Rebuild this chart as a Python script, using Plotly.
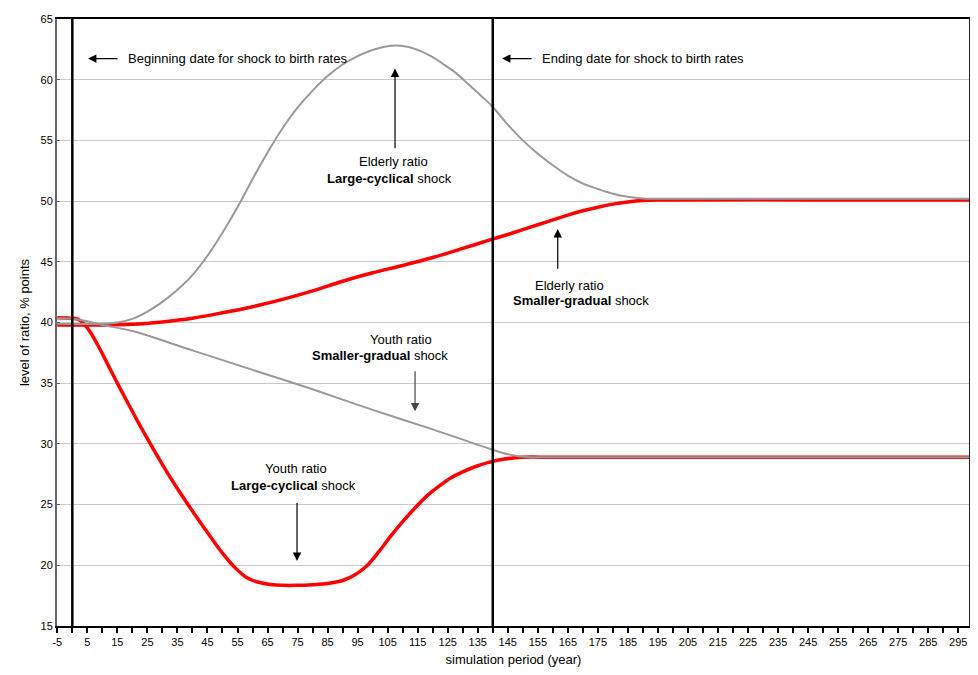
import plotly.graph_objects as go

# ---- data ----
yl_years = [-5, 0, 2, 4, 6, 9, 12, 15, 18, 22, 26, 30, 34, 38, 42, 46, 50, 54, 58, 62, 66, 70, 75, 80, 85, 90, 94, 98, 102, 106, 110, 114, 118, 122, 126, 130, 135, 139, 144, 150, 160, 200, 250, 299]
yl_vals = [40.4, 40.35, 40.25, 39.85, 39.2, 37.9, 36.45, 35.0, 33.6, 31.75, 30.0, 28.3, 26.7, 25.2, 23.75, 22.35, 21.0, 19.85, 19.0, 18.6, 18.42, 18.35, 18.35, 18.4, 18.5, 18.75, 19.2, 19.95, 21.1, 22.4, 23.6, 24.7, 25.7, 26.5, 27.2, 27.7, 28.2, 28.5, 28.75, 28.9, 28.9, 28.9, 28.9, 28.9]

ys_years = [-5, 0, 5, 10, 20, 40, 60, 80, 100, 120, 139, 145, 150, 160, 200, 250, 299]
ys_vals = [40.35, 40.3, 40.1, 39.8, 39.3, 37.7, 36.1, 34.5, 32.8, 31.2, 29.6, 29.15, 28.95, 28.9, 28.9, 28.9, 28.9]

el_years = [-5, 10, 15, 20, 25, 30, 35, 40, 45, 50, 55, 60, 65, 70, 75, 80, 85, 90, 95, 100, 104, 108, 112, 116, 120, 124, 128, 132, 136, 140, 145, 150, 155, 160, 165, 170, 175, 180, 185, 190, 195, 250, 299]
el_vals = [39.9, 39.9, 40.0, 40.3, 40.9, 41.7, 42.7, 43.9, 45.5, 47.4, 49.5, 51.8, 54.0, 56.0, 57.7, 59.1, 60.3, 61.25, 61.95, 62.45, 62.72, 62.82, 62.7, 62.35, 61.85, 61.2, 60.5, 59.6, 58.7, 57.75, 56.3, 55.0, 53.9, 52.95, 52.1, 51.45, 51.0, 50.6, 50.35, 50.22, 50.2, 50.2, 50.2]

es_years = [-5, 10, 20, 30, 40, 50, 60, 70, 80, 90, 100, 110, 120, 130, 139, 145, 150, 155, 160, 165, 170, 175, 180, 185, 190, 195, 250, 299]
es_vals = [39.8, 39.8, 39.85, 40.05, 40.35, 40.8, 41.3, 41.9, 42.6, 43.4, 44.1, 44.7, 45.35, 46.1, 46.8, 47.25, 47.65, 48.05, 48.45, 48.85, 49.2, 49.5, 49.75, 49.93, 50.05, 50.1, 50.1, 50.1]

shock_dates = [0, 140]
x_tick_vals = list(range(-5, 300, 10))
x_tick_text = [str(v) for v in x_tick_vals]
y_tick_vals = list(range(15, 70, 5))

RED = "#ff0000"
GRAY = "#999999"
FONT = "Arial, Liberation Sans, sans-serif"

fig = go.Figure()
fig.add_trace(go.Scatter(x=yl_years, y=yl_vals, mode="lines", name="Youth ratio, large-cyclical",
                         line=dict(color=RED, width=3.5, shape="spline", smoothing=0.9)))
fig.add_trace(go.Scatter(x=es_years, y=es_vals, mode="lines", name="Elderly ratio, smaller-gradual",
                         line=dict(color=RED, width=3.5, shape="spline", smoothing=0.9)))
fig.add_trace(go.Scatter(x=ys_years, y=ys_vals, mode="lines", name="Youth ratio, smaller-gradual",
                         line=dict(color=GRAY, width=2, shape="spline", smoothing=0.9)))
fig.add_trace(go.Scatter(x=el_years, y=el_vals, mode="lines", name="Elderly ratio, large-cyclical",
                         line=dict(color=GRAY, width=2, shape="spline", smoothing=0.9)))

shapes = []
for d in shock_dates:
    shapes.append(dict(type="line", xref="x", yref="paper", x0=d, x1=d, y0=0, y1=1,
                       line=dict(color="black", width=2.5)))
shapes.append(dict(type="line", xref="paper", yref="paper", x0=1, x1=1, y0=0, y1=1,
                   line=dict(color="#222222", width=2)))

ann = []
def arrow(hx, hy, tx, ty, color="black"):
    ann.append(dict(x=hx, y=hy, ax=tx, ay=ty, xref="x", yref="y", axref="x", ayref="y",
                    text="", showarrow=True, arrowhead=2, arrowsize=1.4, arrowwidth=1.2,
                    arrowcolor=color, standoff=0, startstandoff=0))

def label(x, y, t, xanchor="center"):
    ann.append(dict(x=x, y=y, xref="x", yref="y", text=t, showarrow=False,
                    xanchor=xanchor, yanchor="middle", font=dict(family=FONT, size=13, color="black")))

arrow(5.22, 61.74, 15.55, 61.74)
label(17.88, 61.74, "Beginning date for shock to birth rates", xanchor="left")
arrow(143.08, 61.74, 153.41, 61.74)
label(155.74, 61.74, "Ending date for shock to birth rates", xanchor="left")

arrow(107.45, 60.92, 107.45, 54.23)
label(106.79, 53.25, "Elderly ratio")
label(105.46, 51.86, "<b>Large-cyclical</b> shock")

arrow(161.63, 47.70, 161.63, 44.30)
label(165.56, 43.07, "Elderly ratio")
label(169.39, 41.82, "<b>Smaller-gradual</b> shock")

arrow(114.12, 32.68, 114.12, 36.11, color="#444444")
label(109.45, 38.56, "Youth ratio")
label(102.46, 37.25, "<b>Smaller-gradual</b> shock")

arrow(74.82, 20.36, 74.82, 25.26)
label(74.32, 27.95, "Youth ratio")
label(73.49, 26.56, "<b>Large-cyclical</b> shock")

fig.update_layout(
    width=970, height=667,
    margin=dict(l=49, r=8, t=5, b=49),
    paper_bgcolor="white", plot_bgcolor="white",
    showlegend=False,
    font=dict(family=FONT, size=11, color="black"),
    shapes=shapes, annotations=ann,
    xaxis=dict(range=[-5.1, 298.9], tickvals=x_tick_vals, ticktext=x_tick_text,
               ticks="outside", ticklen=5, tickwidth=1.5, tickcolor="black",
               minor=dict(ticks="outside", ticklen=5, tickwidth=1.5, tickcolor="black", dtick=5, tick0=0, showgrid=False),
               showline=True, linecolor="black", linewidth=2, mirror=True,
               showgrid=False, zeroline=False,
               tickfont=dict(family=FONT, size=11, color="black"),
               title=dict(text="simulation period (year)", standoff=8,
                          font=dict(family=FONT, size=13, color="black"))),
    yaxis=dict(range=[15, 65], tickvals=y_tick_vals,
               ticks="inside", ticklen=3, tickcolor="#666666",
               showline=True, linecolor="#666666", linewidth=2,
               showgrid=True, gridcolor="#c8c8c8", gridwidth=1, zeroline=False,
               tickfont=dict(family=FONT, size=11, color="black"),
               title=dict(text="level of ratio, % points", standoff=8,
                          font=dict(family=FONT, size=13, color="black"))),
)

fig.write_html("out.html")
